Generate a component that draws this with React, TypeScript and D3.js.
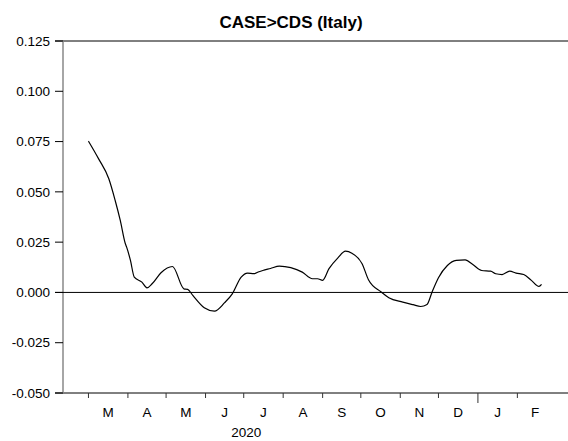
import { useMemo } from "react";
import { scaleTime, scaleLinear, line, curveMonotoneX, timeMonth } from "d3";

const title = "CASE>CDS (Italy)";
const yTicks = [0.125, 0.1, 0.075, 0.05, 0.025, 0, -0.025, -0.05];
const monthLetters = ["J", "F", "M", "A", "M", "J", "J", "A", "S", "O", "N", "D"];
const yearLabel = "2020";

const dates = [
  "2020-03-01", "2020-03-09", "2020-03-17", "2020-03-22", "2020-03-26", "2020-03-30",
  "2020-03-31", "2020-04-03", "2020-04-06", "2020-04-12", "2020-04-16", "2020-04-20",
  "2020-04-27", "2020-05-06", "2020-05-15", "2020-05-18", "2020-05-22", "2020-05-31",
  "2020-06-08", "2020-06-16", "2020-06-22", "2020-06-29", "2020-07-04", "2020-07-09",
  "2020-07-13", "2020-07-16", "2020-07-22", "2020-07-29", "2020-08-07", "2020-08-16",
  "2020-08-24", "2020-08-28", "2020-09-01", "2020-09-06", "2020-09-13", "2020-09-19",
  "2020-09-24", "2020-10-02", "2020-10-07", "2020-10-17", "2020-10-23", "2020-11-03",
  "2020-11-11", "2020-11-17", "2020-11-22", "2020-11-26", "2020-12-01", "2020-12-08",
  "2020-12-15", "2020-12-22", "2020-12-28", "2021-01-04", "2021-01-11", "2021-01-15",
  "2021-01-20", "2021-01-26", "2021-01-31", "2021-02-06", "2021-02-12", "2021-02-18",
  "2021-02-20",
];

const values = [
  0.0752, 0.0664, 0.0565, 0.0457, 0.0358, 0.0242,
  0.0225, 0.0159, 0.0076, 0.0051, 0.0023, 0.0043,
  0.0098, 0.0129, 0.0018, 0.0015, -0.0015, -0.0076,
  -0.0093, -0.0051, -0.0007, 0.0076, 0.0096, 0.0093,
  0.0103, 0.0109, 0.0119, 0.0131, 0.0123, 0.0101,
  0.0068, 0.0068, 0.006, 0.0118, 0.0172, 0.0205,
  0.0195, 0.0143, 0.0063, 0.0002, -0.0026, -0.0048,
  -0.0061, -0.007, -0.006, 0.0002, 0.0073, 0.0134,
  0.0159, 0.0162, 0.0139, 0.0109, 0.0106, 0.0093,
  0.0089, 0.0106, 0.0096, 0.0089, 0.006, 0.003,
  0.004,
];

const parse = (s: string) => {
  const [y, m, d] = s.split("-").map(Number);
  return new Date(y, m - 1, d);
};

export default function App() {
  const W = 568;
  const H = 441;
  const left = 63;
  const right = 553;
  const top = 41;
  const bottom = 393;
  const font = "'Liberation Sans', Arial, sans-serif";

  const x = useMemo(
    () => scaleTime().domain([new Date(2020, 1, 10), new Date(2021, 2, 1)]).range([left, right]),
    []
  );
  const y = useMemo(() => scaleLinear().domain([-0.05, 0.125]).range([bottom, top]), []);

  const series = dates.map((d, i) => ({ date: parse(d), value: values[i] }));
  const path = line<{ date: Date; value: number }>()
    .x((d) => x(d.date))
    .y((d) => y(d.value))
    .curve(curveMonotoneX)(series);

  const months = timeMonth.range(new Date(2020, 2, 1), new Date(2021, 2, 1));

  return (
    <svg
      width={W}
      height={H}
      style={{ position: "absolute", left: 0, top: 0, background: "#fff" }}
      fontFamily={font}
    >
      <text x={291} y={28} textAnchor="middle" fontSize={17} fontWeight="bold" fill="#000">
        {title}
      </text>

      {/* frame */}
      <line x1={55} x2={W} y1={top} y2={top} stroke="#000" strokeWidth={1} />
      <line x1={55} x2={W} y1={bottom} y2={bottom} stroke="#000" strokeWidth={1} />
      <line x1={left} x2={left} y1={top} y2={bottom} stroke="#888" strokeWidth={1.5} />
      <line x1={55} x2={W} y1={y(0)} y2={y(0)} stroke="#000" strokeWidth={1} />

      {yTicks.map((t) => (
        <g key={t}>
          <line x1={55} x2={left} y1={y(t)} y2={y(t)} stroke="#000" />
          <text
            x={50}
            y={y(t)}
            dy="0.35em"
            textAnchor="end"
            fontSize={13.5}
            fill="#000"
          >
            {t.toFixed(3)}
          </text>
        </g>
      ))}

      {months.map((m) => {
        const next = timeMonth.offset(m, 1);
        const isYear = m.getMonth() === 0;
        return (
          <g key={m.getTime()}>
            <line
              x1={x(m)}
              x2={x(m)}
              y1={bottom}
              y2={bottom + (isYear ? 10 : 5)}
              stroke="#333"
            />
            <text
              x={(x(m) + x(next)) / 2}
              y={412}
              dy="0.35em"
              textAnchor="middle"
              fontSize={13.5}
              fill="#000"
            >
              {monthLetters[m.getMonth()]}
            </text>
          </g>
        );
      })}

      <text x={x(new Date(2020, 6, 3))} y={432} dy="0.35em" textAnchor="middle" fontSize={13.5} fill="#000">
        {yearLabel}
      </text>

      <path d={path ?? ""} fill="none" stroke="#000" strokeWidth={1.2} />
    </svg>
  );
}
